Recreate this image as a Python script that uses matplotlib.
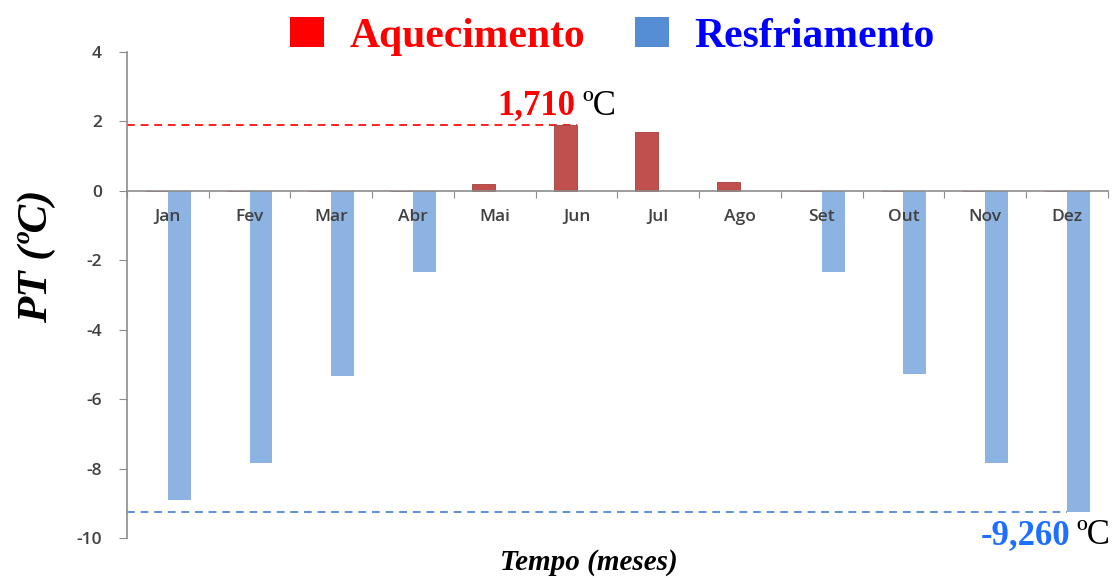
import numpy as np
import matplotlib.pyplot as plt
from matplotlib.patches import Patch

plt.rcParams["axes.unicode_minus"] = False

meses = ["Jan", "Fev", "Mar", "Abr", "Mai", "Jun", "Jul", "Ago", "Set", "Out", "Nov", "Dez"]
aquecimento = [0, 0, 0, 0, 0.21, 1.90, 1.71, 0.26, 0, 0, 0, 0]
resfriamento = [-8.89, -7.83, -5.32, -2.34, 0, 0, 0, 0, -2.33, -5.27, -7.83, -9.25]
rotulo_max = "1,710"
rotulo_min = "-9,260"

cor_aq = "#C0504D"
cor_rf = "#8DB3E2"
serif = "Liberation Serif"

fig = plt.figure(figsize=(11.12, 5.78), dpi=100)
ax = fig.add_axes([0.1142, 0.069, 0.882, 0.841])

x = np.arange(len(meses))
w = 0.28
ax.bar(x - w / 2, aquecimento, width=w, color=cor_aq, edgecolor="#A0403D", linewidth=0.6, zorder=2)
ax.bar(x + w / 2, resfriamento, width=w, color=cor_rf, zorder=2)

ax.set_xlim(-0.5, len(meses) - 0.5)
ax.set_ylim(-10, 4)
ax.set_yticks(np.arange(-10, 5, 2))

# eixo x passando pelo zero, ticks nas divisas e rotulos no centro
ax.spines["bottom"].set_position(("data", 0))
for s in ["top", "right"]:
    ax.spines[s].set_visible(False)
for s in ["left", "bottom"]:
    ax.spines[s].set_color("#8C8C8C")
    ax.spines[s].set_linewidth(1.2)
    ax.spines[s].set_zorder(3)
ax.xaxis.set_zorder(5)
ax.set_xticks(np.arange(-0.5, len(meses), 1.0))
ax.set_xticklabels([])
ax.set_xticks(x, minor=True)
ax.set_xticklabels(meses, minor=True)
ax.tick_params(axis="x", which="major", direction="out", length=5, color="#8C8C8C")
ax.tick_params(axis="x", which="minor", length=0, pad=13)
ax.tick_params(axis="y", direction="out", length=6, color="#8C8C8C", pad=12)
for lab in ax.get_xticklabels(minor=True) + ax.get_yticklabels():
    lab.set_fontfamily("Open Sans")
    lab.set_fontweight("semibold")
    lab.set_fontsize(12.5)
    lab.set_color("#404040")

# linhas de pico
pico_aq = max(aquecimento)
pico_rf = min(resfriamento)
ax.plot([-0.5, 5.0], [pico_aq, pico_aq], color="#FF2020", linestyle=(0, (4, 3)), linewidth=1.4, zorder=1)
ax.plot([-0.5, 11.0], [pico_rf, pico_rf], color="#5B8FE0", linestyle=(0, (4, 3)), linewidth=1.4, zorder=1)

ax.text(4.99, pico_aq + 0.07, rotulo_max, color="#FF0000", fontsize=25, fontweight="bold",
        family=serif, ha="right", va="bottom")
ax.text(5.07, pico_aq + 0.07, "ºC", color="black", fontsize=25, family=serif, ha="left", va="bottom")
ax.text(11.04, pico_rf - 0.2, rotulo_min, color="#1E6FFF", fontsize=25, fontweight="bold",
        family=serif, ha="right", va="top")
ax.text(11.12, pico_rf - 0.2, "ºC", color="black", fontsize=25, family=serif, ha="left", va="top")

ax.set_ylabel("PT (ºC)", family=serif, fontsize=31, fontweight="bold", style="italic")
ax.yaxis.set_label_coords(-0.072, 0.58)
fig.text(0.53, 0.004, "Tempo (meses)", family=serif, fontsize=21, fontweight="bold",
         style="italic", ha="center", va="bottom")

handles = [Patch(facecolor="#FF0000"), Patch(facecolor="#558ED5")]
leg = fig.legend(handles, ["Aquecimento", "Resfriamento"], loc="upper center",
                 bbox_to_anchor=(0.551, 1.035), ncol=2, frameon=False,
                 prop={"family": serif, "weight": "bold", "size": 30},
                 handlelength=0.8, handleheight=0.72, handletextpad=0.62, columnspacing=1.2)
for t, c in zip(leg.get_texts(), ["#FF0000", "#0000FF"]):
    t.set_color(c)

fig.savefig("out.png", dpi=100)
